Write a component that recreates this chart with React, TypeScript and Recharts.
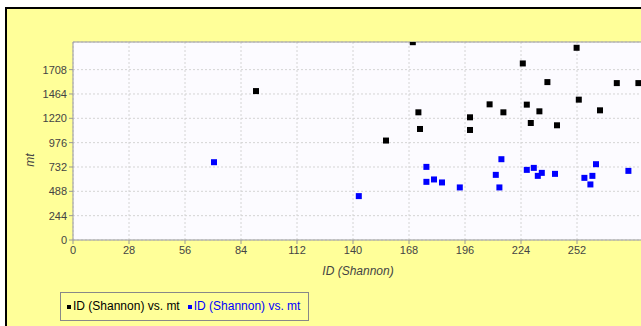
import React from 'react';
import {
  ScatterChart,
  Scatter,
  XAxis,
  YAxis,
  CartesianGrid,
  ReferenceLine,
} from 'recharts';

// series A (black): ID (Shannon), mt
const blackShannon = [91.5, 156.5, 169.9, 172.7, 173.5, 198.5, 198.5, 208.3, 215.2, 224.9, 226.9, 228.9, 233.2, 237.2, 242, 251.8, 252.9, 263.5, 271.9, 282.7];
const blackMt = [1493, 997, 1983, 1280, 1113, 1230, 1103, 1360, 1280, 1770, 1357, 1173, 1290, 1583, 1150, 1927, 1407, 1300, 1573, 1573];

// series B (blue)
const blueShannon = [70.5, 142.9, 176.7, 176.7, 180.5, 184.5, 193.4, 211.4, 213.2, 214.2, 226.9, 230.4, 232.4, 234.4, 241, 255.7, 258.7, 259.7, 261.5, 277.7];
const blueMt = [780, 440, 733, 583, 607, 577, 527, 653, 527, 810, 703, 723, 643, 673, 663, 623, 557, 643, 760, 693];

const xTicks = [0, 28, 56, 84, 112, 140, 168, 196, 224, 252];
const yTicks = [0, 244, 488, 732, 976, 1220, 1464, 1708];
const xMax = 285;
const yMax = 1985;

const seriesLabel = 'ID (Shannon) vs. mt';

const toPoints = (xs: number[], ys: number[]) => xs.map((x, i) => ({ x, y: ys[i] }));
const blackData = toPoints(blackShannon, blackMt);
const blueData = toPoints(blueShannon, blueMt);

const Square = (color: string) => (props: any) => {
  const { cx, cy } = props;
  if (cx == null || cy == null) return null;
  return <rect x={cx - 3} y={cy - 3} width={6} height={6} fill={color} />;
};

const font = 'Arial, "Liberation Sans", sans-serif';
const tickStyle = { fontSize: 11, fill: '#444', fontFamily: font };

// axis titles sit where the original chart had them
const YTitle = () => (
  <text x={27} y={151} transform="rotate(-90 27 151)" textAnchor="middle" fontSize={12} fontStyle="italic" fill="#444" fontFamily={font}>
    mt
  </text>
);

const XTitle = () => (
  <text x={351} y={266} textAnchor="middle" fontSize={12} fontStyle="italic" fill="#444" fontFamily={font}>
    ID (Shannon)
  </text>
);

const LegendBox = () => (
  <div
    style={{
      position: 'absolute',
      left: 53,
      top: 283,
      border: '1px solid #888',
      padding: '6px 8px 6px 6px',
      display: 'flex',
      alignItems: 'center',
      fontFamily: font,
      fontSize: 12,
      lineHeight: '15px',
      whiteSpace: 'nowrap',
    }}
  >
    <span style={{ display: 'inline-block', width: 4, height: 4, background: '#000', marginRight: 2 }} />
    <span style={{ color: '#000', marginRight: 8 }}>{seriesLabel}</span>
    <span style={{ display: 'inline-block', width: 4, height: 4, background: '#0000ff', marginRight: 2 }} />
    <span style={{ color: '#0000ff' }}>{seriesLabel}</span>
  </div>
);

export default function App() {
  return (
    <div style={{ position: 'absolute', left: 0, top: 0, width: 641, height: 326, overflow: 'hidden', background: '#fff' }}>
      <div
        style={{
          position: 'absolute',
          left: 5,
          top: 7,
          width: 700,
          height: 330,
          borderLeft: '2px solid #000',
          borderTop: '2px solid #000',
          background: '#FFFF99',
        }}
      >
        <ScatterChart width={700} height={320} margin={{ top: 33, right: 64, bottom: 59, left: 16 }}>
          <CartesianGrid fill="#FCFBFF" stroke="#d4d4d4" strokeDasharray="2 2" />
          <XAxis
            type="number"
            dataKey="x"
            domain={[0, xMax]}
            ticks={xTicks}
            height={30}
            stroke="#999"
            tick={tickStyle}
            tickSize={4}
            tickMargin={2}
            allowDataOverflow
          />
          <YAxis
            type="number"
            dataKey="y"
            domain={[0, yMax]}
            ticks={yTicks}
            width={50}
            stroke="#999"
            tick={tickStyle}
            tickSize={4}
            tickMargin={2}
            allowDataOverflow
          />
          <ReferenceLine y={yMax} stroke="#999" />
          <Scatter name={seriesLabel} data={blackData} fill="#000" shape={Square('#000')} isAnimationActive={false} />
          <Scatter name={seriesLabel} data={blueData} fill="#0000ff" shape={Square('#0000ff')} isAnimationActive={false} />
          <YTitle />
          <XTitle />
        </ScatterChart>
        <LegendBox />
      </div>
    </div>
  );
}
